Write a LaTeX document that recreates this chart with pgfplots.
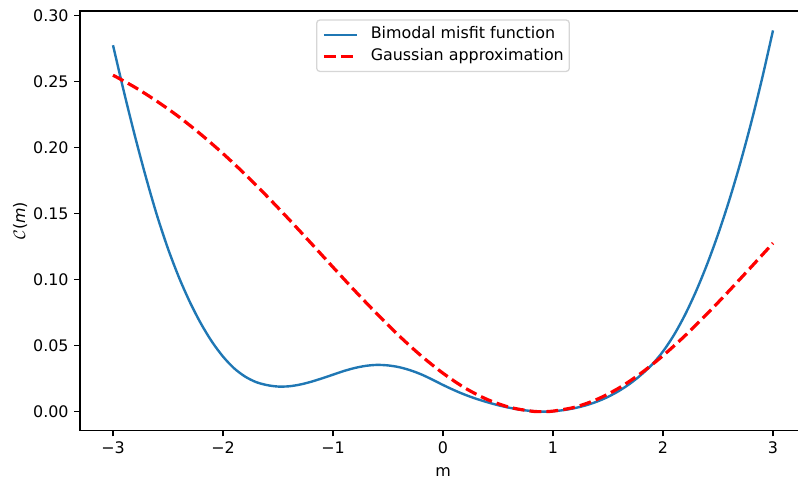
\documentclass[border=0pt]{standalone}
\usepackage{fontspec}
\setmainfont{DejaVu Sans}
\usepackage{pgfplots}
\pgfplotsset{compat=1.18}

\definecolor{mplblue}{HTML}{1F77B4}
\definecolor{legedge}{HTML}{D6D6D6}

\pgfplotstableread{
m      c
-3.0   0.2775
-2.9   0.2420
-2.8   0.2085
-2.7   0.1773
-2.6   0.1486
-2.5   0.1234
-2.4   0.1016
-2.3   0.0828
-2.2   0.0666
-2.1   0.0529
-2.0   0.0417
-1.9   0.0329
-1.8   0.0266
-1.7   0.0224
-1.6   0.0201
-1.5   0.0190
-1.4   0.0192
-1.3   0.0205
-1.2   0.0226
-1.1   0.0252
-1.0   0.0280
-0.9   0.0308
-0.8   0.0331
-0.7   0.0347
-0.6   0.0354
-0.5   0.0350
-0.4   0.0337
-0.3   0.0314
-0.2   0.0283
-0.1   0.0244
0.0    0.0202
0.1    0.0163
0.2    0.0128
0.3    0.0098
0.4    0.0072
0.5    0.0049
0.6    0.0030
0.7    0.0015
0.8    0.0005
0.9    0.0000
1.0    0.0003
1.1    0.0012
1.2    0.0027
1.3    0.0048
1.4    0.0076
1.5    0.0112
1.6    0.0157
1.7    0.0212
1.8    0.0278
1.9    0.0356
2.0    0.0456
2.1    0.0581
2.2    0.0733
2.3    0.0911
2.4    0.1114
2.5    0.1342
2.6    0.1595
2.7    0.1875
2.8    0.2183
2.9    0.2520
3.0    0.2887
}\misfit

\pgfplotstableread{
m      c
-3.0   0.2548
-2.8   0.2456
-2.6   0.2350
-2.4   0.2232
-2.2   0.2099
-2.0   0.1954
-1.8   0.1798
-1.6   0.1631
-1.4   0.1456
-1.2   0.1276
-1.0   0.1094
-0.8   0.0914
-0.6   0.0740
-0.4   0.0575
-0.2   0.0424
0.0    0.0291
0.2    0.0179
0.4    0.0093
0.6    0.0034
0.8    0.0004
0.9    0.0000
1.0    0.0004
1.2    0.0034
1.4    0.0093
1.6    0.0179
1.8    0.0291
2.0    0.0424
2.2    0.0575
2.4    0.0740
2.6    0.0914
2.8    0.1094
3.0    0.1276
}\gaussapprox

\begin{document}
\begin{tikzpicture}
\begin{axis}[
  name=ax,
  scale only axis,
  width=522.72bp, height=302.2bp,
  xmin=-3.3, xmax=3.3,
  ymin=-0.01445, ymax=0.3034,
  axis line style={line width=0.92bp, black},
  every tick/.style={line width=0.92bp, black},
  tick align=outside,
  major tick length=4bp,
  tick pos=left,
  xtick={-3,-2,-1,0,1,2,3},
  xticklabels={−3,−2,−1,0,1,2,3},
  ytick={0,0.05,0.10,0.15,0.20,0.25,0.30},
  yticklabels={0.00,0.05,0.10,0.15,0.20,0.25,0.30},
  tick label style={font=\fontsize{11.5}{13.8}\selectfont},
  xticklabel style={inner sep=0pt, yshift=-4bp},
  yticklabel style={inner sep=0pt, xshift=-4bp},
  xlabel={m},
  ylabel={$\mathcal{C}$(\textit{m})},
  label style={font=\fontsize{11.5}{13.8}\selectfont},
  xlabel style={at={(axis description cs:0.5,-0.108)}, anchor=base},
  ylabel style={at={(axis description cs:-0.0826,0.5)}, anchor=center},
  legend style={
    at={(axis description cs:0.5,0.980)}, anchor=north,
    draw=legedge, line width=0.92bp, rounded corners=2.3bp,
    fill=white,
    font=\fontsize{11.5}{13.8}\selectfont,
    inner xsep=4bp, inner ysep=2.66bp,
    column sep=8.64bp,
    nodes={inner sep=0pt, text height=10.5bp, text depth=5.34bp},
  },
  legend cell align=left,
  legend image code/.code={\draw[#1] (0bp,0bp) -- (24bp,0bp);},
]
% misfit curve with two local minima
\addplot[mplblue, line width=1.725bp, smooth] table[x=m, y=c] {\misfit};
\addlegendentry{Bimodal misfit function}
% Gaussian fitted around the global minimum
\addplot[red, line width=2.3bp, dash pattern=on 8.5bp off 3.7bp, smooth]
  table[x=m, y=c] {\gaussapprox};
\addlegendentry{Gaussian approximation}
\end{axis}
\pgfresetboundingbox
\path[use as bounding box] ([xshift=-57.6bp,yshift=-34.06bp]ax.south west)
  rectangle ([xshift=516.96bp,yshift=7.92bp]ax.north west);
\end{tikzpicture}
\end{document}
